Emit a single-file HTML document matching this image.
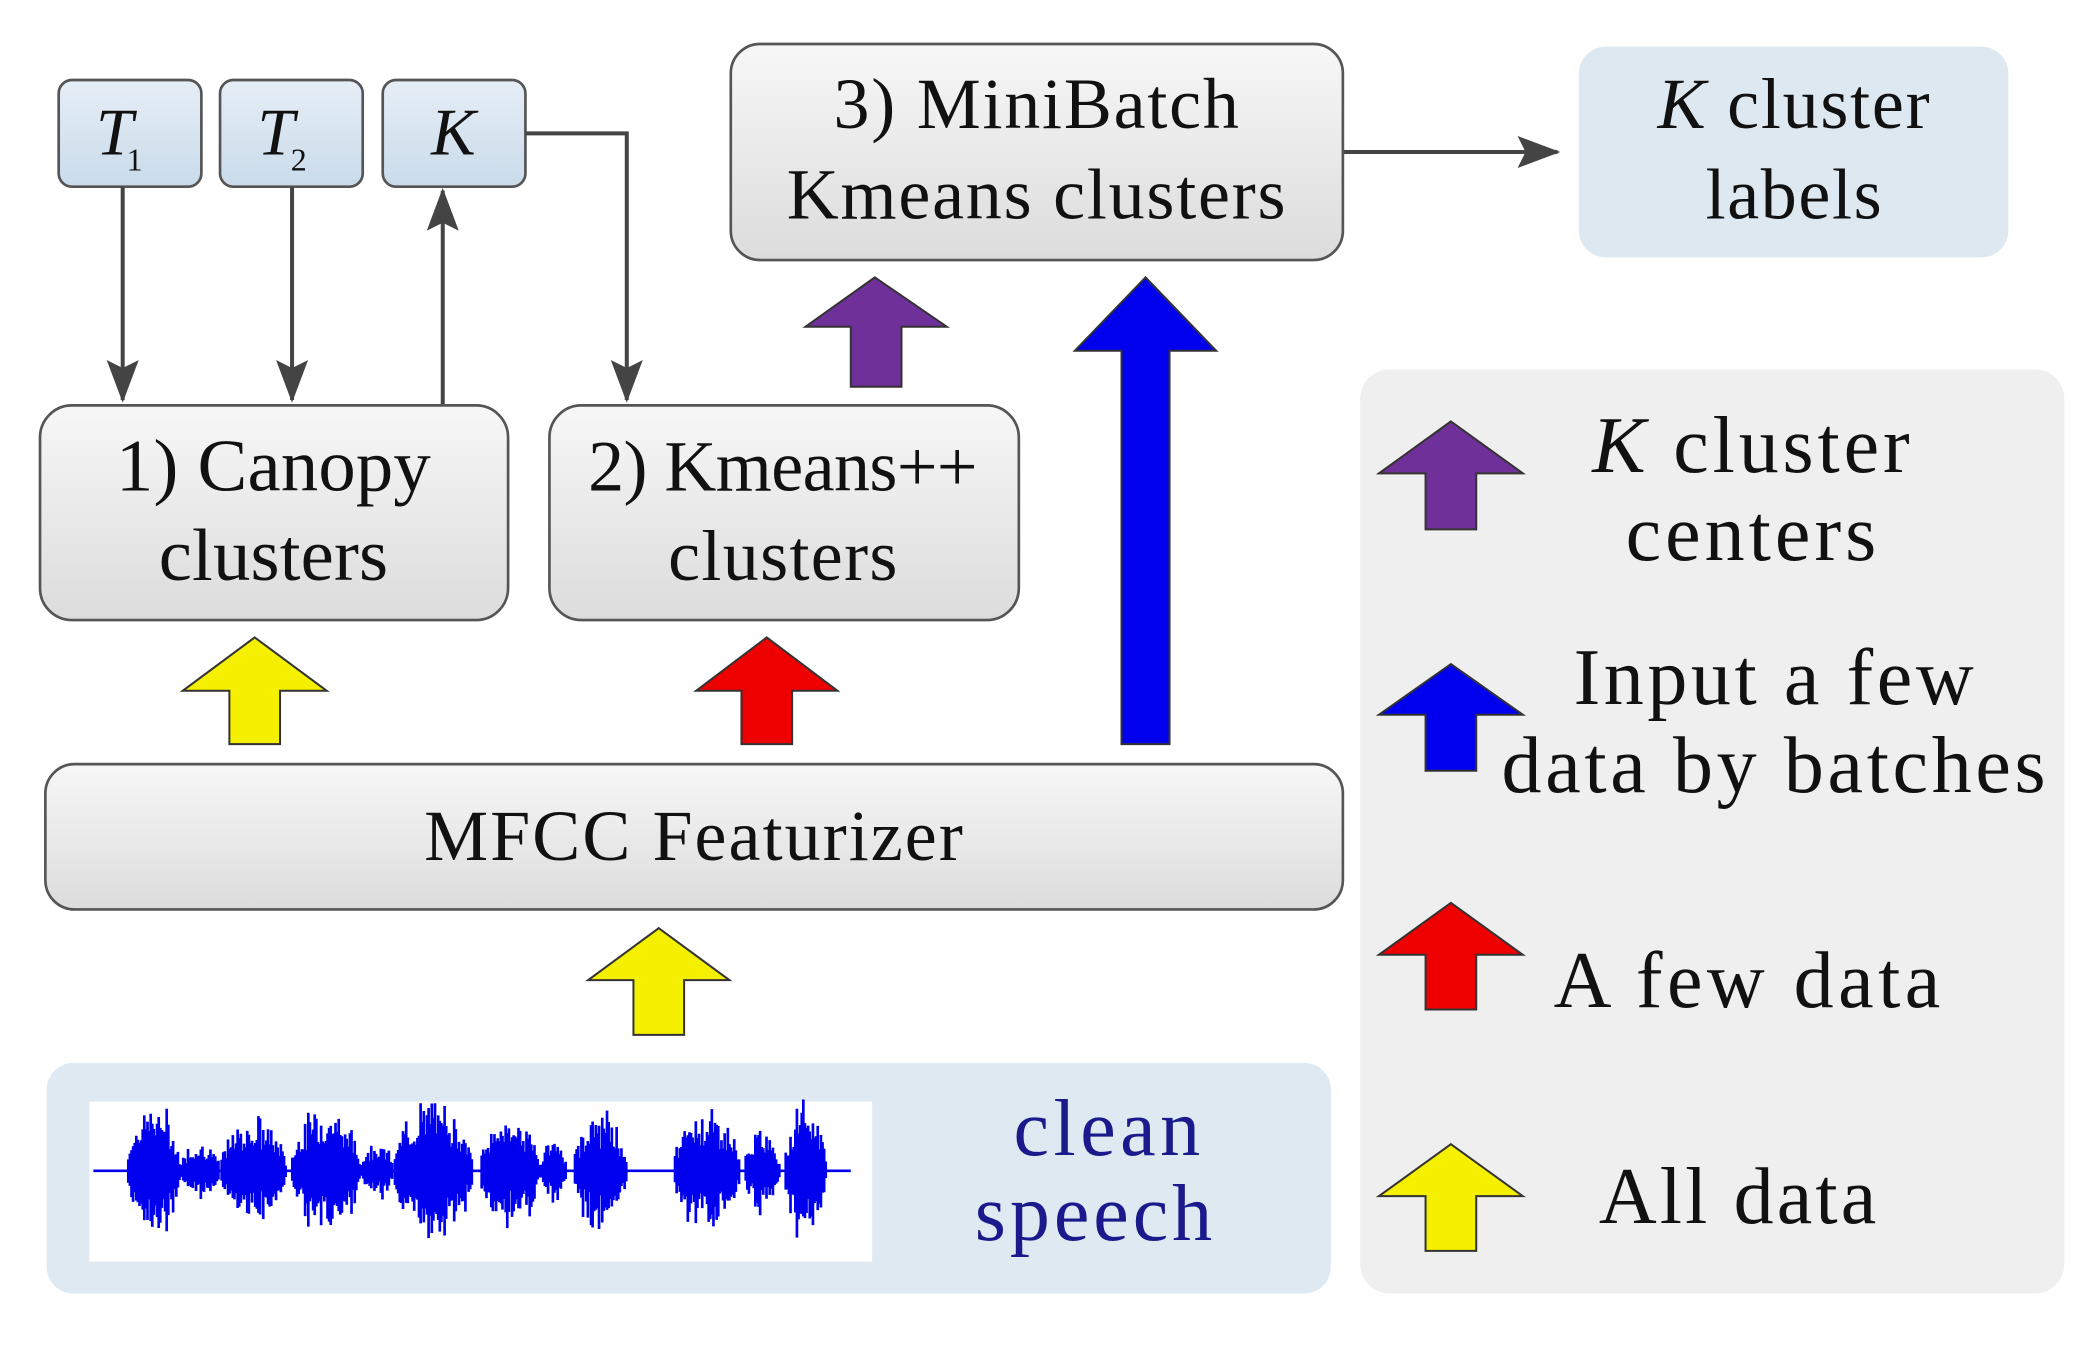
<!DOCTYPE html>
<html><head><meta charset="utf-8"><style>
html,body{margin:0;padding:0;background:#fff;}
svg{display:block;}
text{font-family:"Liberation Serif",serif;fill:#111;}
</style></head><body>
<svg width="2091" height="1349" viewBox="0 0 1568 1011.6" xmlns="http://www.w3.org/2000/svg">
<defs>
<linearGradient id="gg" x1="0" y1="0" x2="0" y2="1"><stop offset="0" stop-color="#f7f7f7"/><stop offset="1" stop-color="#dcdcdc"/></linearGradient>
<linearGradient id="bg" x1="0" y1="0" x2="0" y2="1"><stop offset="0" stop-color="#e6eef6"/><stop offset="1" stop-color="#c9dbea"/></linearGradient>
<marker id="ah2" markerWidth="32" markerHeight="24" refX="30" refY="12" orient="auto" markerUnits="userSpaceOnUse" viewBox="0 0 32 24"><path d="M0,0 L32,12 L0,24 L6,12 Z" fill="#444"/></marker>
</defs>
<rect x="1020" y="277" width="528" height="693" rx="22" fill="#efefef"/>
<rect x="35" y="797" width="963" height="173" rx="20" fill="#dfe9f2"/>
<rect x="67" y="826" width="587" height="120" fill="#fff"/>
<path id="wave" d="" stroke="#0000ee" stroke-width="2" fill="none"/>
<line x1="70" y1="878" x2="638" y2="878" stroke="#0000ee" stroke-width="2"/>
<text x="830" y="866" font-size="60" text-anchor="middle" textLength="140" style="fill:#1a1a8c">clean</text>
<text x="820" y="930" font-size="60" text-anchor="middle" textLength="178" style="fill:#1a1a8c">speech</text>
<rect x="1184" y="35" width="322" height="158" rx="20" fill="#dde8f1"/>
<text x="1345" y="96" font-size="54" text-anchor="middle" textLength="204"><tspan font-style="italic">K</tspan> cluster</text>
<text x="1345" y="164" font-size="54" text-anchor="middle" textLength="132">labels</text>
<rect x="44" y="60" width="107" height="80" rx="10" fill="url(#bg)" stroke="#555" stroke-width="2"/>
<rect x="165" y="60" width="107" height="80" rx="10" fill="url(#bg)" stroke="#555" stroke-width="2"/>
<rect x="287" y="60" width="107" height="80" rx="10" fill="url(#bg)" stroke="#555" stroke-width="2"/>
<text x="72" y="116" font-size="50" font-style="italic">T</text><text x="95" y="128" font-size="24">1</text>
<text x="193" y="116" font-size="50" font-style="italic">T</text><text x="218" y="128" font-size="24">2</text>
<text x="340" y="116" font-size="50" font-style="italic" text-anchor="middle">K</text>
<g stroke="#444" stroke-width="3" fill="none">
<line x1="92" y1="140" x2="92" y2="300" marker-end="url(#ah2)"/>
<line x1="219" y1="140" x2="219" y2="300" marker-end="url(#ah2)"/>
<line x1="332" y1="304" x2="332" y2="143" marker-end="url(#ah2)"/>
<polyline points="394,100 470,100 470,300" marker-end="url(#ah2)"/>
<line x1="1007" y1="114" x2="1168" y2="114" marker-end="url(#ah2)"/>
</g>
<rect x="548" y="33" width="459" height="162" rx="22" fill="url(#gg)" stroke="#555" stroke-width="2"/>
<text x="777" y="96" font-size="54" text-anchor="middle" textLength="304">3) MiniBatch</text>
<text x="777" y="164" font-size="54" text-anchor="middle" textLength="374">Kmeans clusters</text>
<rect x="30" y="304" width="351" height="161" rx="24" fill="url(#gg)" stroke="#555" stroke-width="2"/>
<text x="205" y="368" font-size="56" text-anchor="middle" textLength="236">1) Canopy</text>
<text x="205" y="435" font-size="56" text-anchor="middle" textLength="172">clusters</text>
<rect x="412" y="304" width="352" height="161" rx="24" fill="url(#gg)" stroke="#555" stroke-width="2"/>
<text x="587" y="368" font-size="54" text-anchor="middle" textLength="292">2) Kmeans++</text>
<text x="587" y="435" font-size="54" text-anchor="middle" textLength="172">clusters</text>
<rect x="34" y="573" width="973" height="109" rx="22" fill="url(#gg)" stroke="#555" stroke-width="2"/>
<text x="520" y="645" font-size="54" text-anchor="middle" textLength="404">MFCC Featurizer</text>
<g stroke="#333" stroke-width="1.5">
<path d="M656,208 L710,245 L676,245 L676,290 L638,290 L638,245 L604,245 Z" fill="#70309a"/>
<path d="M859,208 L912,263 L877,263 L877,558 L841,558 L841,263 L806,263 Z" fill="#0000ee"/>
<path d="M191,478 L245,518 L210,518 L210,558 L172,558 L172,518 L137,518 Z" fill="#f5f000"/>
<path d="M575,478 L628,518 L594,518 L594,558 L556,558 L556,518 L522,518 Z" fill="#ee0000"/>
<path d="M494,696 L547,735 L513,735 L513,776 L475,776 L475,735 L441,735 Z" fill="#f5f000"/>
<path d="M1088,316 L1142,355 L1107,355 L1107,397 L1069,397 L1069,355 L1034,355 Z" fill="#70309a"/>
<path d="M1088,498 L1142,536 L1107,536 L1107,578 L1069,578 L1069,536 L1034,536 Z" fill="#0000ee"/>
<path d="M1088,677 L1142,716 L1107,716 L1107,757 L1069,757 L1069,716 L1034,716 Z" fill="#ee0000"/>
<path d="M1088,858 L1142,897 L1107,897 L1107,938 L1069,938 L1069,897 L1034,897 Z" fill="#f5f000"/>
</g>
<text x="1313" y="354" font-size="60" text-anchor="middle" textLength="238"><tspan font-style="italic">K</tspan> cluster</text>
<text x="1313" y="420" font-size="60" text-anchor="middle" textLength="188">centers</text>
<text x="1330" y="528" font-size="60" text-anchor="middle" textLength="300">Input a few</text>
<text x="1330" y="594" font-size="60" text-anchor="middle" textLength="408">data by batches</text>
<text x="1310" y="755" font-size="60" text-anchor="middle" textLength="290">A few data</text>
<text x="1303" y="917" font-size="60" text-anchor="middle" textLength="208">All data</text>
</svg>
<script>
(function(){
var segs=[[95,135,58],[135,165,25],[165,215,45],[218,270,55],[270,295,25],[295,355,60],[360,405,48],[405,425,28],[430,470,50],[505,555,52],[558,585,35],[588,620,58]];
var d="",s=7;function r(){s=(s*9301+49297)%233280;return s/233280;}
segs.forEach(function(g){for(var x=g[0];x<=g[1];x+=1.2){var t=(x-g[0])/(g[1]-g[0]);var env=g[2]*Math.pow(Math.sin(Math.PI*t),0.5)*(0.5+0.5*r());var a=env*(0.6+0.4*r()),b=env*(0.6+0.4*r());d+="M"+x.toFixed(1)+","+(878-a).toFixed(1)+"V"+(878+b).toFixed(1);}});
document.getElementById("wave").setAttribute("d",d);
})();
</script>
</body></html>
